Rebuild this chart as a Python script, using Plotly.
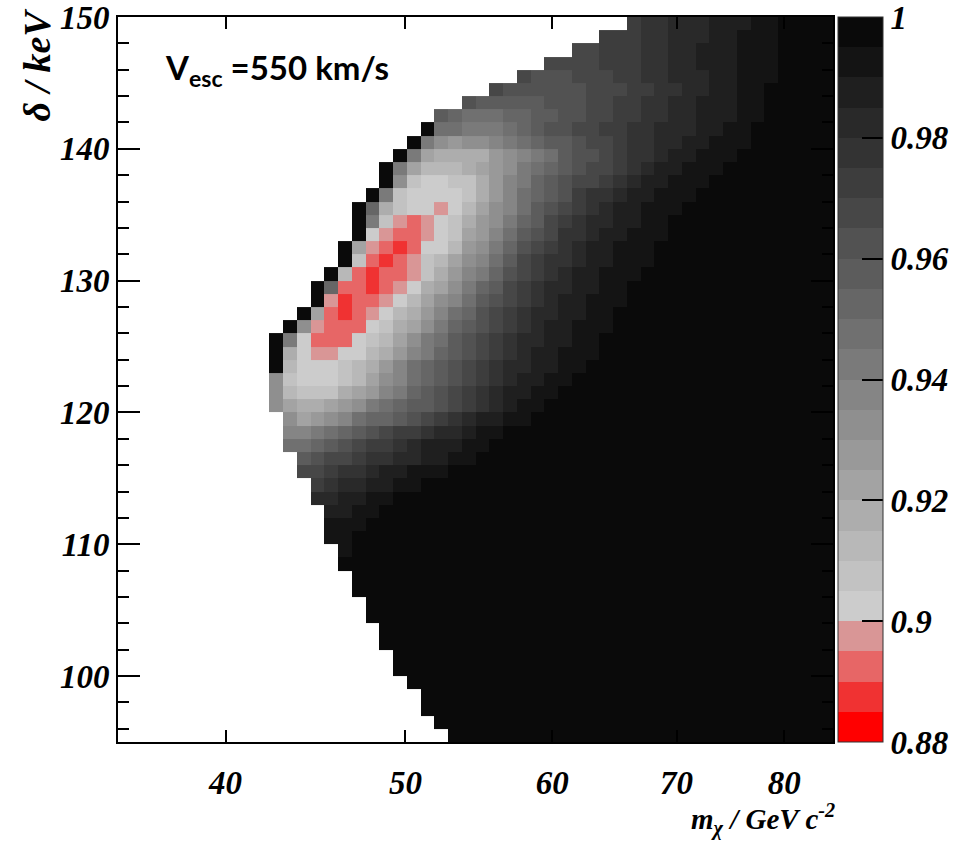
import numpy as np
import plotly.graph_objects as go

# ---------------- axes / binning ----------------
MASS_MIN, MASS_MAX = 35.0, 85.0        # m_chi / GeV c^-2 (log axis)
DELTA_MIN, DELTA_MAX = 95.0, 150.0     # delta / keV
N_MASS_BINS = 52
N_DELTA_BINS = 55

X_TICKS = [40, 50, 60, 70, 80]
Y_TICKS = [100, 110, 120, 130, 140, 150]

# ---------------- colour levels ----------------
Z_MIN, Z_MAX, Z_STEP = 0.88, 1.00, 0.005
Z_TICKS = [0.88, 0.90, 0.92, 0.94, 0.96, 0.98, 0.99995]
Z_TICK_TEXT = ["0.88", "0.9", "0.92", "0.94", "0.96", "0.98", "1"]
LEVEL_CHARS = "0123456789abcdefghijklmn"   # level index of each cell (0 -> 0.880-0.885 ... n -> 0.995-1.000)

# first mass bin holding a value, one entry per delta row (top row = 149-150 keV first)
START_COL = [37, 35, 33, 31, 29, 27, 25, 23, 22, 21,
             20, 19, 19, 18, 17, 17, 17, 16, 16, 15,
             14, 14, 13, 12, 11, 11, 11, 11, 11, 11,
             12, 12, 12, 13, 13, 14, 14, 15, 15, 15,
             16, 16, 17, 17, 18, 18, 19, 19, 20, 20,
             21, 22, 22, 23, 24]

# level read for each cell, from START_COL up to the last mass bin (top row first)
ROW_LEVELS = [
    "ijjkkklllmm" "nnnn",
    "iiijjkkkllmmm" "nnnn",
    "hhiiijjkklllmmm" "nnnn",
    "hhhhiiijjkklllmmm" "nnnn",
    "hggghhhiijjkkkllmmm" "nnnn",
    "hgggggghhhiijjkkllmm" "nnnnn",
    "gfffffggghhiijjkklllmm" "nnnnn",
    "fedddeeffgghhiijjkklllmm" "nnnnn",
    "nddcccdefgghhiijjkkkllmm" "nnnnn" "n",
    "nca9aabcdeffghhijjkkllmmm" "nnnnn" "n",
    "nc877779abcdfgghijjkllmmm" "nnnnn" "nn",
    "nc8666789acdefghhijkllmmm" "nnnnn" "nnn",
    "na5445579bcefghhijkllmmm" "nnnnn" "nnnn",
    "nc54444579bdefgijjkllmmm" "nnnnn" "nnnnn",
    "ne75443468abdfghijkllmmm" "nnnnn" "nnnnn" "n",
    "nc53234579acefhijkkllmm" "nnnnn" "nnnnn" "nn",
    "n432234589bdfghjjkllmmm" "nnnnn" "nnnnn" "nn",
    "n832124469aceghijkllmmm" "nnnnn" "nnnnn" "nnn",
    "n52123568abdfhijjkllmmm" "nnnnn" "nnnnn" "nnn",
    "n621223579bceghijkllmmm" "nnnnn" "nnnnn" "nnnn",
    "ne22123478acefhijkkllmm" "nnnnn" "nnnnn" "nnnnn",
    "n31223468abdfghijkllmmm" "nnnnn" "nnnnn" "nnnnn",
    "n821234679bdeghijkkllmm" "nnnnn" "nnnnn" "nnnnn" "n",
    "na32224578acefghijkllmmm" "nnnnn" "nnnnn" "nnnnn" "n",
    "nc42224568acdfghijkkllmm" "nnnnn" "nnnnn" "nnnnn" "nn",
    "n743344679bcefghijkllmmm" "nnnnn" "nnnnn" "nnnnn" "nn",
    "n64445679bdefghijkkllmm" "nnnnn" "nnnnn" "nnnnn" "nnn",
    "a5444568abdefghijkllmm" "nnnnn" "nnnnn" "nnnnn" "nnnn",
    "a6555789bcefghijkllmm" "nnnnn" "nnnnn" "nnnnn" "nnnnn",
    "a87789acdeffghijklmm" "nnnnn" "nnnnn" "nnnnn" "nnnnn" "n",
    "a89abdeefghijkllmm" "nnnnn" "nnnnn" "nnnnn" "nnnnn" "nn",
    "bbcdefghiijkklmm" "nnnnn" "nnnnn" "nnnnn" "nnnnn" "nnnn",
    "ddefghiijklllmm" "nnnnn" "nnnnn" "nnnnn" "nnnnn" "nnnnn",
    "fghhijjkkllmm" "nnnnn" "nnnnn" "nnnnn" "nnnnn" "nnnnn" "n",
    "hhijjkllmmm" "nnnnn" "nnnnn" "nnnnn" "nnnnn" "nnnnn" "nnn",
    "ijkkllmm" "nnnnn" "nnnnn" "nnnnn" "nnnnn" "nnnnn" "nnnnn",
    "kkllmm" "nnnnn" "nnnnn" "nnnnn" "nnnnn" "nnnnn" "nnnnn" "nn",
    "llmm" "nnnnn" "nnnnn" "nnnnn" "nnnnn" "nnnnn" "nnnnn" "nnn",
    "mmm" "nnnnn" "nnnnn" "nnnnn" "nnnnn" "nnnnn" "nnnnn" "nnnn",
    "mm" "nnnnn" "nnnnn" "nnnnn" "nnnnn" "nnnnn" "nnnnn" "nnnnn",
    "m" "nnnnn" "nnnnn" "nnnnn" "nnnnn" "nnnnn" "nnnnn" "nnnnn",
    "nnnnn" "nnnnn" "nnnnn" "nnnnn" "nnnnn" "nnnnn" "nnnnn" "n",
    "nnnnn" "nnnnn" "nnnnn" "nnnnn" "nnnnn" "nnnnn" "nnnnn",
    "nnnnn" "nnnnn" "nnnnn" "nnnnn" "nnnnn" "nnnnn" "nnnnn",
    "nnnnn" "nnnnn" "nnnnn" "nnnnn" "nnnnn" "nnnnn" "nnnn",
    "nnnnn" "nnnnn" "nnnnn" "nnnnn" "nnnnn" "nnnnn" "nnnn",
    "nnnnn" "nnnnn" "nnnnn" "nnnnn" "nnnnn" "nnnnn" "nnn",
    "nnnnn" "nnnnn" "nnnnn" "nnnnn" "nnnnn" "nnnnn" "nnn",
    "nnnnn" "nnnnn" "nnnnn" "nnnnn" "nnnnn" "nnnnn" "nn",
    "nnnnn" "nnnnn" "nnnnn" "nnnnn" "nnnnn" "nnnnn" "nn",
    "nnnnn" "nnnnn" "nnnnn" "nnnnn" "nnnnn" "nnnnn" "n",
    "nnnnn" "nnnnn" "nnnnn" "nnnnn" "nnnnn" "nnnnn",
    "nnnnn" "nnnnn" "nnnnn" "nnnnn" "nnnnn" "nnnnn",
    "nnnnn" "nnnnn" "nnnnn" "nnnnn" "nnnnn" "nnnn",
    "nnnnn" "nnnnn" "nnnnn" "nnnnn" "nnnnn" "nnn",
]

# palette: 4 red bands (0.88-0.90) then 20 grey bands (0.90-1.00)
RED_BANDS = ["rgb(255,0,0)", "rgb(240,50,50)", "rgb(231,102,102)", "rgb(217,150,150)"]
GREY_LEVELS = [204, 194, 184, 173, 163, 153, 143, 133, 122, 112,
               102, 92, 82, 71, 61, 51, 41, 31, 20, 10]
BAND_COLORS = RED_BANDS + ["rgb(%d,%d,%d)" % (g, g, g) for g in GREY_LEVELS]

# ---------------- checks ----------------
bad = [(r, s, len(l)) for r, (s, l) in enumerate(zip(START_COL, ROW_LEVELS))
       if s + len(l) != N_MASS_BINS]
if bad or len(ROW_LEVELS) != N_DELTA_BINS or len(START_COL) != N_DELTA_BINS:
    raise ValueError("row length mismatch: %s (rows=%d, starts=%d)"
                     % (bad, len(ROW_LEVELS), len(START_COL)))

# ---------------- build z ----------------
z_rows = []
for s, levels in zip(START_COL, ROW_LEVELS):
    row = [None] * s + [Z_MIN + Z_STEP * (LEVEL_CHARS.index(c) + 0.5) for c in levels]
    z_rows.append(row)
z = z_rows[::-1]  # lowest delta first

x_edges = np.geomspace(MASS_MIN, MASS_MAX, N_MASS_BINS + 1)
y_edges = np.linspace(DELTA_MIN, DELTA_MAX, N_DELTA_BINS + 1)

n_bands = len(BAND_COLORS)
colorscale = []
for i, c in enumerate(BAND_COLORS):
    colorscale.append([i / n_bands, c])
    colorscale.append([(i + 1) / n_bands, c])

SERIF = dict(family="Liberation Serif, Times New Roman, serif", size=33,
             color="black", weight="bold", style="italic")
SERIF_TITLE = dict(SERIF, size=38)
SERIF_XTITLE = dict(SERIF, size=29)

fig = go.Figure(go.Heatmap(
    x=x_edges, y=y_edges, z=z,
    zmin=Z_MIN, zmax=Z_MAX, colorscale=colorscale,
    hoverongaps=False,
    colorbar=dict(
        thickness=45, thicknessmode="pixels",
        len=1, lenmode="fraction",
        x=1.007, xanchor="left", xpad=0,
        y=0.5, yanchor="middle", ypad=0,
        outlinewidth=1, outlinecolor="#333",
        tickvals=Z_TICKS, ticktext=Z_TICK_TEXT,
        ticks="inside", ticklen=21, tickwidth=1.5, tickcolor="black",
        tickfont=SERIF, ticklabeloverflow="allow",
    ),
))

fig.update_layout(
    width=965, height=844, autosize=False,
    margin=dict(l=118, r=132, t=17, b=102, autoexpand=False),
    paper_bgcolor="white", plot_bgcolor="white",
    showlegend=False,
    xaxis=dict(
        type="log", range=[np.log10(MASS_MIN), np.log10(MASS_MAX)],
        tickvals=X_TICKS, ticktext=[str(v) for v in X_TICKS],
        ticks="inside", ticklen=12, tickwidth=1.5, tickcolor="black",
        showline=True, linecolor="black", linewidth=2, mirror="ticks",
        showgrid=False, zeroline=False,
        tickfont=SERIF, ticklabelstandoff=10, ticklabeloverflow="allow",
    ),
    yaxis=dict(
        range=[DELTA_MIN, DELTA_MAX + 0.001],
        tickvals=Y_TICKS, ticktext=[str(v) for v in Y_TICKS],
        ticks="inside", ticklen=22, tickwidth=1.5, tickcolor="black",
        minor=dict(dtick=2, ticklen=11, ticks="inside", tickcolor="black",
                   tickwidth=1.5, showgrid=False),
        showline=True, linecolor="black", linewidth=2, mirror="ticks",
        showgrid=False, zeroline=False,
        tickfont=SERIF, ticklabelstandoff=0, ticklabeloverflow="allow",
    ),
    annotations=[
        dict(text="V<sub>esc</sub> =550 km/s", x=0.063, y=0.928,
             xref="paper", yref="paper", xanchor="left", yanchor="middle",
             showarrow=False,
             font=dict(family="Lato, Open Sans, sans-serif", size=33,
                       color="black", weight="bold")),
        dict(text="δ / keV", textangle=-90, x=-0.113, y=1.014,
             xref="paper", yref="paper", xanchor="center", yanchor="top",
             showarrow=False, font=SERIF_TITLE),
        dict(text="m<sub>χ</sub> / GeV c<sup>-2</sup>", x=1.006, y=-0.107,
             xref="paper", yref="paper", xanchor="right", yanchor="middle",
             showarrow=False, font=SERIF_XTITLE),
    ],
)

fig.write_html("out.html")
